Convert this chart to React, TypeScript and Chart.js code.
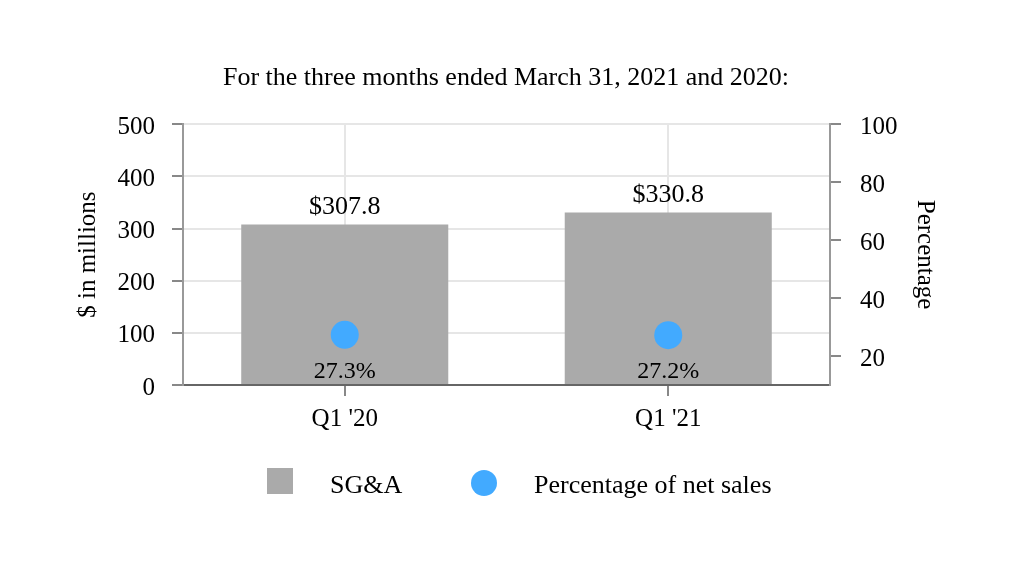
import React, { useEffect, useRef } from 'react';
import { Chart, registerables } from 'chart.js';

Chart.register(...registerables);

const titleText = 'For the three months ended March 31, 2021 and 2020:';
const categories = ["Q1 '20", "Q1 '21"];
const sgaValues = [307.8, 330.8];
const pctValues = [27.3, 27.2];
const sgaLabels = ['$307.8', '$330.8'];
const pctLabels = ['27.3%', '27.2%'];
const seriesNames = ['SG&A', 'Percentage of net sales'];
const leftAxisTitle = '$ in millions';
const rightAxisTitle = 'Percentage';

const FONT = '"Liberation Serif", "Times New Roman", Times, serif';
const BAR_COLOR = '#aaaaaa';
const DOT_COLOR = '#42aaff';

const labelPlugin = {
  id: 'valueLabels',
  afterDatasetsDraw(chart: any) {
    const ctx = chart.ctx;
    const barMeta = chart.getDatasetMeta(1);
    ctx.save();
    ctx.fillStyle = '#000';
    ctx.textAlign = 'center';
    barMeta.data.forEach((el: any, i: number) => {
      ctx.font = `26px ${FONT}`;
      ctx.textBaseline = 'bottom';
      ctx.fillText(sgaLabels[i], el.x, el.y - 4);
      ctx.font = `24px ${FONT}`;
      ctx.textBaseline = 'middle';
      ctx.fillText(pctLabels[i], el.x, chart.chartArea.bottom - 13);
    });
    ctx.restore();
  },
};

const legendPlugin = {
  id: 'customLegend',
  afterDraw(chart: any) {
    const ctx = chart.ctx;
    ctx.save();
    const cy = 481;
    ctx.fillStyle = BAR_COLOR;
    ctx.fillRect(267, cy - 13, 26, 26);
    ctx.fillStyle = DOT_COLOR;
    ctx.beginPath();
    ctx.arc(484, cy + 2, 13, 0, Math.PI * 2);
    ctx.fill();
    ctx.fillStyle = '#000';
    ctx.font = `26px ${FONT}`;
    ctx.textAlign = 'left';
    ctx.textBaseline = 'middle';
    ctx.fillText(seriesNames[0], 330, cy + 5);
    ctx.fillText(seriesNames[1], 534, cy + 5);
    ctx.restore();
  },
};

export default function App() {
  const ref = useRef<HTMLCanvasElement>(null);

  useEffect(() => {
    if (!ref.current) return;
    const chart = new Chart(ref.current, {
      type: 'bar',
      data: {
        labels: categories,
        datasets: [
          {
            type: 'line',
            label: seriesNames[1],
            data: pctValues,
            yAxisID: 'y1',
            showLine: false,
            pointRadius: 14,
            pointHoverRadius: 14,
            pointBackgroundColor: DOT_COLOR,
            pointBorderWidth: 0,
            backgroundColor: DOT_COLOR,
            borderColor: DOT_COLOR,
            order: 0,
          } as any,
          {
            type: 'bar',
            label: seriesNames[0],
            data: sgaValues,
            yAxisID: 'y',
            backgroundColor: BAR_COLOR,
            borderWidth: 0,
            barPercentage: 0.8,
            categoryPercentage: 0.8,
            order: 1,
          },
        ],
      },
      options: {
        responsive: false,
        animation: false,
        layout: { padding: 0 },
        plugins: {
          legend: { display: false },
          tooltip: { enabled: false },
          title: {
            display: true,
            text: titleText,
            color: '#000',
            font: { family: FONT, size: 26, weight: 'normal' },
            padding: { top: 63, bottom: 30 },
          },
        },
        scales: {
          x: {
            afterFit: (s: any) => { s.height = 185; },
            grid: {
              offset: false,
              color: '#e6e6e6',
              tickColor: '#888',
              tickLength: 11,
              lineWidth: 2,
            },
            border: { color: '#666', width: 2 },
            ticks: {
              color: '#000',
              padding: 8,
              font: { family: FONT, size: 25 },
            },
          },
          y: {
            position: 'left',
            min: 0,
            max: 500,
            afterFit: (s: any) => { s.width = 183; },
            ticks: {
              stepSize: 100,
              color: '#000',
              padding: 17,
              labelOffset: 3,
              font: { family: FONT, size: 25 },
            },
            grid: {
              color: '#e6e6e6',
              tickColor: '#888',
              tickLength: 11,
              lineWidth: 2,
            },
            border: { color: '#999', width: 2 },
            title: {
              display: true,
              text: leftAxisTitle,
              color: '#000',
              font: { family: FONT, size: 25 },
              padding: { top: 73, bottom: 0 },
            },
          },
          y1: {
            position: 'right',
            min: 10,
            max: 100,
            afterFit: (s: any) => { s.width = 182; },
            ticks: {
              stepSize: 20,
              includeBounds: false,
              color: '#000',
              padding: 19,
              labelOffset: 3,
              font: { family: FONT, size: 25 },
            },
            grid: {
              drawOnChartArea: false,
              tickColor: '#888',
              tickLength: 11,
              lineWidth: 2,
            },
            border: { color: '#999', width: 2 },
            title: {
              display: true,
              text: rightAxisTitle,
              color: '#000',
              font: { family: FONT, size: 25 },
              padding: { top: 72, bottom: 0 },
            },
          },
        },
      } as any,
      plugins: [labelPlugin, legendPlugin],
    });
    return () => chart.destroy();
  }, []);

  return (
    <div style={{ position: 'fixed', left: 0, top: 0, width: 1012, height: 570, background: '#fff' }}>
      <canvas ref={ref} width={1012} height={570} style={{ width: 1012, height: 570, display: 'block' }} />
    </div>
  );
}
